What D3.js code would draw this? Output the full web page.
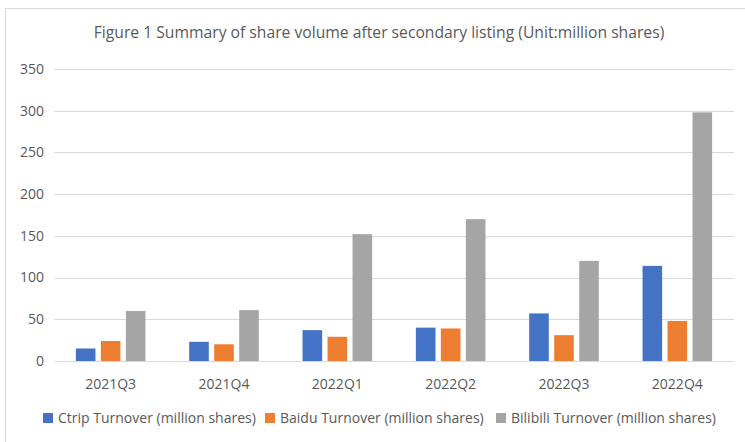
<!DOCTYPE html>
<html>
<head>
<meta charset="utf-8">
<script src="https://cdn.jsdelivr.net/npm/d3@7"></script>
<style>
  body { margin: 0; background: #fff; }
  text { font-family: "Open Sans", sans-serif; fill: #595959; }
</style>
</head>
<body>
<svg id="chart" width="745" height="442"></svg>
<script>
// chart data
var quarters = ["2021Q3", "2021Q4", "2022Q1", "2022Q2", "2022Q3", "2022Q4"];
var seriesNames = ["Ctrip Turnover (million shares)", "Baidu Turnover (million shares)", "Bilibili Turnover (million shares)"];
var ctrip = [15, 23, 37, 40, 57, 114];
var baidu = [24, 20, 29, 39, 31, 48];
var bilibili = [60, 61, 152, 170, 120, 298];
var yTicks = [0, 50, 100, 150, 200, 250, 300, 350];
var colors = ["#4472C4", "#ED7D31", "#A5A5A5"];

var svg = d3.select("#chart");

// light frame round the chart area
svg.append("rect")
    .attr("x", 5.5).attr("y", 8.5)
    .attr("width", 760).attr("height", 460)
    .attr("fill", "none")
    .attr("stroke", "#D9D9D9");

var margin = {top: 69, left: 54, right: 11, bottom: 81},
    width = 745 - margin.left - margin.right,
    height = 442 - margin.top - margin.bottom;

var g = svg.append("g")
    .attr("transform", "translate(" + margin.left + "," + margin.top + ")");

var x0 = d3.scaleBand().domain(quarters).range([0, width]).padding(0);
var groupPad = x0.bandwidth() * 0.193;
var x1 = d3.scaleBand().domain([0, 1, 2])
    .range([groupPad, x0.bandwidth() - groupPad])
    .paddingInner(0.216).paddingOuter(0);
var y = d3.scaleLinear().domain([0, 350]).range([height, 0]);

// gridlines
g.append("g")
    .selectAll("line")
    .data(yTicks)
    .enter().append("line")
    .attr("x1", 0).attr("x2", width)
    .attr("y1", function (d) { return Math.round(y(d)) + 0.5; })
    .attr("y2", function (d) { return Math.round(y(d)) + 0.5; })
    .attr("stroke", "#D9D9D9")
    .attr("stroke-width", 1);

// y labels
g.append("g")
    .selectAll("text")
    .data(yTicks)
    .enter().append("text")
    .attr("x", -10)
    .attr("y", function (d) { return y(d); })
    .attr("dy", "0.35em")
    .attr("text-anchor", "end")
    .style("font-size", "14px")
    .text(function (d) { return d; });

// bars
var data = quarters.map(function (q, i) {
    return {q: q, vals: [ctrip[i], baidu[i], bilibili[i]]};
});

var groups = g.selectAll(".grp")
    .data(data)
    .enter().append("g")
    .attr("class", "grp")
    .attr("transform", function (d) { return "translate(" + x0(d.q) + ",0)"; });

groups.selectAll("rect")
    .data(function (d) { return d.vals; })
    .enter().append("rect")
    .attr("x", function (d, i) { return x1(i); })
    .attr("width", x1.bandwidth())
    .attr("y", function (d) { return y(d); })
    .attr("height", function (d) { return y(0) - y(d); })
    .attr("fill", function (d, i) { return colors[i]; });

// x labels
g.append("g")
    .selectAll("text")
    .data(quarters)
    .enter().append("text")
    .attr("x", function (d) { return x0(d) + x0.bandwidth() / 2; })
    .attr("y", height + 28)
    .attr("text-anchor", "middle")
    .style("font-size", "14px")
    .text(function (d) { return d; });

// title
svg.append("text")
    .attr("x", 379)
    .attr("y", 38)
    .attr("text-anchor", "middle")
    .style("font-size", "15.7px")
    .text("Figure 1 Summary of share volume after secondary listing (Unit:million shares)");

// legend
var legendX = [43, 265, 496];
var legend = svg.append("g")
    .selectAll("g")
    .data(seriesNames)
    .enter().append("g")
    .attr("transform", function (d, i) { return "translate(" + legendX[i] + ",413)"; });

legend.append("rect")
    .attr("width", 10).attr("height", 10)
    .attr("fill", function (d, i) { return colors[i]; });

legend.append("text")
    .attr("x", 15)
    .attr("y", 5)
    .attr("dy", "0.35em")
    .style("font-size", "14px")
    .text(function (d) { return d; });
</script>
</body>
</html>
